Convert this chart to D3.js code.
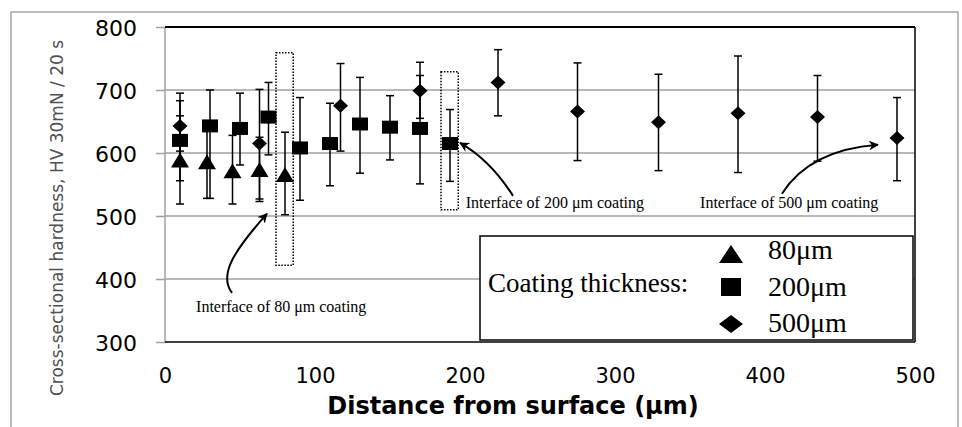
<!DOCTYPE html>
<html>
<head>
<meta charset="utf-8">
<script src="https://cdn.jsdelivr.net/npm/d3@7/dist/d3.min.js"></script>
<style>
  body { margin: 0; background: #fff; }
  svg { display: block; }
  .tick text { fill: #000; }
</style>
</head>
<body>
<svg id="chart" width="962" height="427"></svg>
<script>
// 80 um coating (triangles)
var dist80 = [10, 28, 45, 63, 80];
var hv80   = [589, 586, 572, 574, 566];
var lo80   = [519, 528, 519, 523, 502];
var hi80   = [659, 640, 628, 625, 633];

// 200 um coating (squares)
var dist200 = [10, 30, 50, 69, 90, 110, 130, 150, 170, 190];
var hv200   = [620, 643, 639, 657, 608, 615, 646, 641, 639, 615];
var lo200   = [556, 528, 581, 597, 525, 548, 568, 589, 551, 555];
var hi200   = [695, 700, 695, 712, 688, 679, 720, 691, 723, 669];

// 500 um coating (diamonds)
var dist500 = [10, 63, 117, 170, 222, 275, 329, 382, 435, 488];
var hv500   = [643, 615, 675, 699, 712, 666, 649, 663, 657, 624];
var lo500   = [603, 527, 603, 655, 659, 588, 572, 569, 587, 556];
var hi500   = [683, 701, 742, 744, 764, 743, 725, 754, 723, 688];

var xTicks = [0, 100, 200, 300, 400, 500];
var yTicks = [300, 400, 500, 600, 700, 800];
var legendLabels = ["80\u03bcm", "200\u03bcm", "500\u03bcm"];

// interface boxes [x0, x1, y0, y1] in data units
var interfaceBoxes = [[74, 85.5, 422, 759], [184, 195.5, 510, 729]];
var interfaceTexts = ["Interface of 80 \u03bcm coating", "Interface of 200 \u03bcm coating", "Interface of 500 \u03bcm coating"];

var svg = d3.select("#chart");

var x = d3.scaleLinear().domain([0, 500]).range([165, 915]);
var y = d3.scaleLinear().domain([300, 800]).range([342, 27]);

// outer frame
svg.append("rect")
    .attr("x", 11).attr("y", 12).attr("width", 947).attr("height", 430)
    .attr("fill", "none").attr("stroke", "#a6a6a6").attr("stroke-width", 1.5);

// gridlines
svg.append("g").selectAll("line")
    .data([400, 500, 600, 700])
    .enter().append("line")
    .attr("x1", x(0)).attr("x2", x(500))
    .attr("y1", function(d) { return y(d); })
    .attr("y2", function(d) { return y(d); })
    .attr("stroke", "#a0a0a0").attr("stroke-width", 1.5);

// y axis
var yAxis = svg.append("g")
    .attr("transform", "translate(" + x(0) + ",0)")
    .call(d3.axisLeft(y).tickValues(yTicks).tickSize(9).tickPadding(19).tickFormat(d3.format("d")));
yAxis.select(".domain").remove();
yAxis.selectAll(".tick line").attr("stroke", "#a0a0a0").attr("stroke-width", 1.5);
yAxis.selectAll(".tick text")
    .attr("font-family", "DejaVu Sans").attr("font-size", 22).attr("dy", "0.4em");

// x axis
var xAxis = svg.append("g")
    .attr("transform", "translate(0," + y(300) + ")")
    .call(d3.axisBottom(x).tickValues(xTicks).tickSize(0).tickPadding(26).tickFormat(d3.format("d")));
xAxis.select(".domain").remove();
xAxis.selectAll(".tick text")
    .attr("font-family", "DejaVu Sans").attr("font-size", 21);

// plot frame
svg.append("line").attr("x1", x(0)).attr("x2", x(0)).attr("y1", y(800)).attr("y2", y(300))
    .attr("stroke", "#a0a0a0").attr("stroke-width", 1.5);
svg.append("line").attr("x1", x(0)).attr("x2", x(500)).attr("y1", y(800)).attr("y2", y(800))
    .attr("stroke", "#000").attr("stroke-width", 2);
svg.append("line").attr("x1", x(500)).attr("x2", x(500)).attr("y1", y(800)).attr("y2", y(300))
    .attr("stroke", "#000").attr("stroke-width", 1.5);
svg.append("line").attr("x1", x(0)).attr("x2", x(500)).attr("y1", y(300)).attr("y2", y(300))
    .attr("stroke", "#000").attr("stroke-width", 1.5);

// axis titles
svg.append("text")
    .attr("x", 513).attr("y", 414)
    .attr("text-anchor", "middle")
    .attr("font-family", "DejaVu Sans").attr("font-weight", "bold").attr("font-size", 24)
    .text("Distance from surface (\u03bcm)");

svg.append("text")
    .attr("transform", "translate(63,218) rotate(-90)")
    .attr("text-anchor", "middle")
    .attr("font-family", "DejaVu Sans").attr("font-size", 17).attr("fill", "#505050")
    .text("Cross-sectional hardness, HV 30mN / 20 s");

// marker shapes
function triPath(w, h) { return "M0," + (-h / 2) + "L" + (w / 2) + "," + (h / 2) + "L" + (-w / 2) + "," + (h / 2) + "Z"; }
function sqPath(w, h) { return "M" + (-w / 2) + "," + (-h / 2) + "h" + w + "v" + h + "h" + (-w) + "Z"; }
function diaPath(w, h) { return "M0," + (-h / 2) + "L" + (w / 2) + ",0L0," + (h / 2) + "L" + (-w / 2) + ",0Z"; }

function drawSeries(xs, vs, los, his, shape) {
    var rows = xs.map(function(d, i) { return { d: d, v: vs[i], lo: los[i], hi: his[i] }; });
    var g = svg.append("g");
    var eb = g.selectAll(".eb").data(rows).enter().append("g")
        .attr("stroke", "#000").attr("stroke-width", 1.5);
    eb.append("line")
        .attr("x1", function(r) { return x(r.d); }).attr("x2", function(r) { return x(r.d); })
        .attr("y1", function(r) { return y(r.lo); }).attr("y2", function(r) { return y(r.hi); });
    eb.append("line")
        .attr("x1", function(r) { return x(r.d) - 4; }).attr("x2", function(r) { return x(r.d) + 4; })
        .attr("y1", function(r) { return y(r.lo); }).attr("y2", function(r) { return y(r.lo); });
    eb.append("line")
        .attr("x1", function(r) { return x(r.d) - 4; }).attr("x2", function(r) { return x(r.d) + 4; })
        .attr("y1", function(r) { return y(r.hi); }).attr("y2", function(r) { return y(r.hi); });
    g.selectAll(".mk").data(rows).enter().append("path")
        .attr("d", shape)
        .attr("transform", function(r) { return "translate(" + x(r.d) + "," + y(r.v) + ")"; })
        .attr("fill", "#000");
}

drawSeries(dist500, hv500, lo500, hi500, diaPath(15, 14));
drawSeries(dist200, hv200, lo200, hi200, sqPath(16, 13));
drawSeries(dist80, hv80, lo80, hi80, triPath(18, 15));

// interface boxes
svg.append("g").selectAll("rect")
    .data(interfaceBoxes)
    .enter().append("rect")
    .attr("x", function(b) { return x(b[0]); })
    .attr("y", function(b) { return y(b[3]); })
    .attr("width", function(b) { return x(b[1]) - x(b[0]); })
    .attr("height", function(b) { return y(b[2]) - y(b[3]); })
    .attr("fill", "none").attr("stroke", "#000").attr("stroke-width", 1.5)
    .attr("stroke-dasharray", "1.5,1.5");

// arrows
svg.append("defs").append("marker")
    .attr("id", "ah").attr("viewBox", "0 0 10 10")
    .attr("refX", 9).attr("refY", 5)
    .attr("markerWidth", 5).attr("markerHeight", 5)
    .attr("markerUnits", "strokeWidth")
    .attr("orient", "auto")
    .append("path").attr("d", "M0,0L10,5L0,10L3,5Z").attr("fill", "#000");

var arrows = [
    "M" + x(44.7) + "," + y(378) + "C" + x(35.3) + "," + y(407) + " " + x(46.7) + "," + y(446.5) + " " + x(68) + "," + y(503.7),
    "M" + x(232) + "," + y(532) + "Q" + x(216.7) + "," + y(589) + " " + x(196.7) + "," + y(616),
    "M" + x(411.3) + "," + y(535.4) + "Q" + x(430) + "," + y(605) + " " + x(475.3) + "," + y(613)
];
svg.append("g").selectAll("path")
    .data(arrows)
    .enter().append("path")
    .attr("d", function(d) { return d; })
    .attr("fill", "none").attr("stroke", "#000").attr("stroke-width", 2)
    .attr("marker-end", "url(#ah)");

var textPos = [[20.7, 347], [200.5, 512], [356.7, 512]];
svg.append("g").selectAll("text")
    .data(interfaceTexts)
    .enter().append("text")
    .attr("x", function(t, i) { return x(textPos[i][0]); })
    .attr("y", function(t, i) { return y(textPos[i][1]); })
    .attr("font-family", "Liberation Serif").attr("font-size", 16)
    .text(function(t) { return t; });

// legend
var lg = svg.append("g");
lg.append("rect")
    .attr("x", 480).attr("y", 236).attr("width", 433).attr("height", 104)
    .attr("fill", "#fff").attr("stroke", "#000").attr("stroke-width", 1.5);
lg.append("text")
    .attr("x", 488).attr("y", 292)
    .attr("font-family", "Liberation Serif").attr("font-size", 27)
    .text("Coating thickness:");
var legendShapes = [triPath(24, 18), sqPath(20, 18), diaPath(24, 18)];
var legendMarkY = [254, 287, 324];
var legendTextY = [259, 296, 332];
lg.selectAll(".lm").data(legendShapes).enter().append("path")
    .attr("d", function(s) { return s; })
    .attr("transform", function(s, i) { return "translate(731," + legendMarkY[i] + ")"; })
    .attr("fill", "#000");
lg.selectAll(".lt").data(legendLabels).enter().append("text")
    .attr("x", 768).attr("y", function(t, i) { return legendTextY[i]; })
    .attr("font-family", "Liberation Serif").attr("font-size", 28)
    .text(function(t) { return t; });
</script>
</body>
</html>
